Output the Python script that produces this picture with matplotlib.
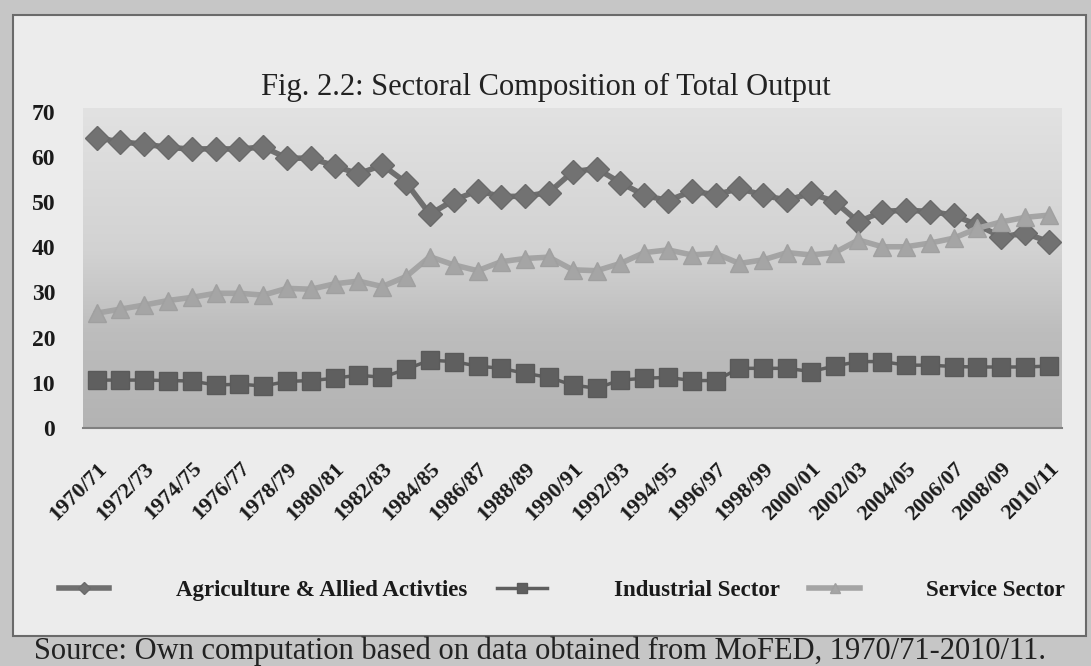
import matplotlib

matplotlib.use("Agg")
import matplotlib.pyplot as plt  # noqa: E402
import numpy as np  # noqa: E402
from matplotlib.colors import LinearSegmentedColormap  # noqa: E402
from matplotlib.patches import Rectangle  # noqa: E402

plt.rcParams["font.family"] = ["Liberation Serif", "DejaVu Serif"]

# fiscal years 1970/71 .. 2010/11
years = [f"{y}/{(y + 1) % 100:02d}" for y in range(1970, 2011)]
tick_labels = years[::2]

agriculture = [64.2, 63.3, 62.8, 62.1, 61.7, 61.8, 61.7, 62.2, 59.7, 59.7,
               58.0, 56.2, 58.2, 54.3, 47.3, 50.4, 52.5, 51.2, 51.3, 52.1,
               56.7, 57.4, 54.3, 51.5, 50.3, 52.4, 51.6, 53.0, 51.5, 50.4,
               51.9, 50.1, 45.6, 47.9, 48.2, 47.9, 47.1, 44.9, 42.3, 43.1, 41.2]
industry = [10.6, 10.6, 10.6, 10.5, 10.4, 9.5, 9.7, 9.3, 10.3, 10.5,
            11.0, 11.7, 11.2, 13.0, 15.0, 14.7, 13.7, 13.2, 12.1, 11.2,
            9.5, 8.8, 10.6, 11.0, 11.2, 10.5, 10.5, 13.2, 13.2, 13.2,
            12.5, 13.7, 14.7, 14.7, 13.9, 13.9, 13.6, 13.5, 13.5, 13.5, 13.7]
service = [25.4, 26.3, 27.2, 28.2, 28.9, 29.8, 29.8, 29.4, 30.9, 30.7,
           31.9, 32.5, 31.3, 33.5, 37.9, 36.1, 34.8, 36.8, 37.5, 37.8,
           35.0, 34.8, 36.4, 38.8, 39.4, 38.3, 38.6, 36.4, 37.2, 38.8,
           38.3, 38.8, 41.6, 40.1, 40.1, 40.9, 42.0, 44.2, 45.6, 46.6, 47.1]

W, H = 1091, 666
fig = plt.figure(figsize=(W / 100, H / 100), dpi=100)
fig.patch.set_facecolor("#c6c6c6")

# inner light panel with dark frame, kept behind the axes
panel = Rectangle((13 / W, 1 - 636 / H), (1086 - 13) / W, (636 - 15) / H,
                  transform=fig.transFigure, facecolor="#ececec",
                  edgecolor="#6a6a6a", linewidth=1.5, zorder=-10)
fig.patches.append(panel)

ax = fig.add_axes([83 / W, 1 - 428 / H, (1062 - 83) / W, (428 - 108) / H])
ax.set_facecolor("none")

# gray gradient background of the plot area
cmap = LinearSegmentedColormap.from_list(
    "bg", [(0.0, "#b3b3b3"), (0.3, "#bdbdbd"), (0.55, "#d2d2d2"), (1.0, "#e2e2e2")])
grad = np.linspace(0, 1, 256).reshape(-1, 1)
ax.imshow(grad, cmap=cmap, aspect="auto", extent=[0, 1, 0, 1],
          transform=ax.transAxes, origin="lower", zorder=0)

x = np.arange(len(years))
ax.plot(x, agriculture, color="#6f6f6f", lw=4, marker="D", ms=12,
        mec="#6a6a6a", mfc="#727272", label="Agriculture & Allied Activties", zorder=3)
ax.plot(x, industry, color="#5e5e5e", lw=2.5, marker="s", ms=13,
        mec="#5a5a5a", mfc="#5f5f5f", label="Industrial Sector", zorder=3)
ax.plot(x, service, color="#a4a4a4", lw=4, marker="^", ms=13,
        mec="#a0a0a0", mfc="#a5a5a5", label="Service Sector", zorder=3)

ax.set_xlim(-0.57, len(years) - 0.45)
ax.set_ylim(0, 70.8)
ax.set_yticks(range(0, 71, 10))
ax.set_yticklabels([str(v) for v in range(0, 71, 10)], fontsize=17, fontweight="bold")
ax.set_xticks(x[::2])
ax.set_xticklabels(tick_labels, rotation=45, ha="right", rotation_mode="anchor",
                   fontsize=16, fontweight="bold")
ax.tick_params(axis="y", length=0, pad=20, colors="#1a1a1a")
ax.tick_params(axis="x", length=0, pad=22, colors="#1a1a1a")
for side in ("top", "right", "left"):
    ax.spines[side].set_visible(False)
ax.spines["bottom"].set_color("#808080")
ax.spines["bottom"].set_linewidth(1.5)

fig.text(546 / W, 1 - 87 / H, "Fig. 2.2: Sectoral Composition of Total Output",
         ha="center", va="center", fontsize=22, color="#222222")

leg = fig.legend(loc="center", bbox_to_anchor=(562 / W, 1 - 590 / H), ncol=3,
                 frameon=False, prop={"size": 16.5, "weight": "bold"},
                 handlelength=2.2, handletextpad=2.9, columnspacing=1.3,
                 markerscale=0.55)
for t in leg.get_texts():
    t.set_color("#1a1a1a")

fig.text(540 / W, 1 - 651 / H,
         "Source: Own computation based on data obtained from MoFED, 1970/71-2010/11.",
         ha="center", va="center", fontsize=22, color="#222222")

fig.savefig("out.png", dpi=100, facecolor=fig.get_facecolor())
